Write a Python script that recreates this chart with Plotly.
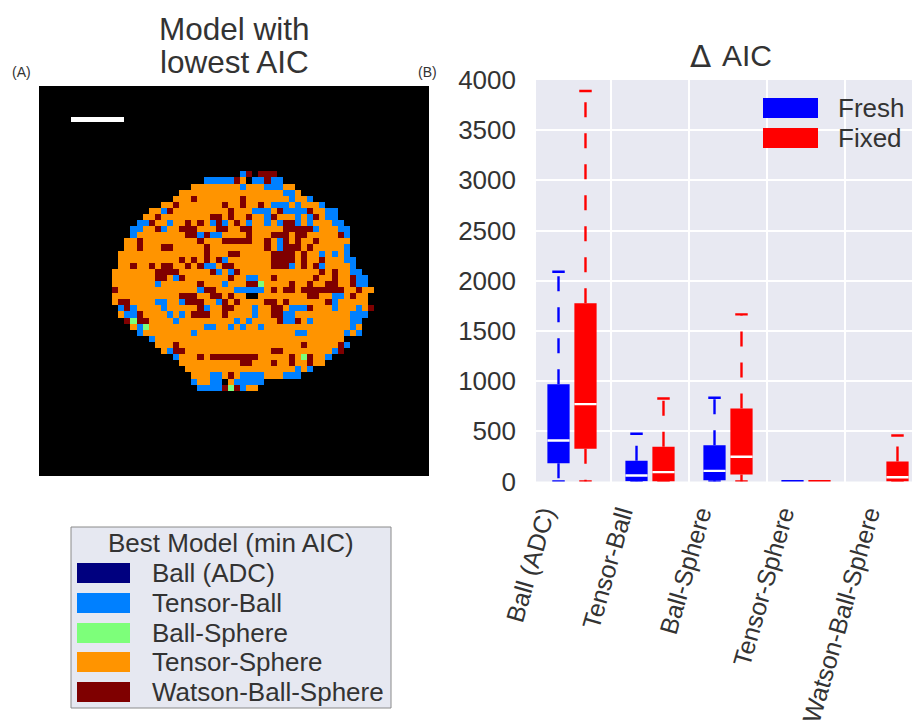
import numpy as np
import plotly.graph_objects as go

W, H = 912, 725
FONT = "Liberation Sans"
TXT = "#333333"
BG = "#e8e9f2"

# ---------- box plot data ----------
models = ["Ball (ADC)", "Tensor-Ball", "Ball-Sphere", "Tensor-Sphere", "Watson-Ball-Sphere"]
label_positions = [-0.37, 0.63, 1.64, 2.70, 3.80]
fresh_low = [0, 0, 0, 0, None]
fresh_q1 = [183, 3, 13, 0, None]
fresh_med = [409, 60, 106, 1, None]
fresh_q3 = [970, 206, 362, 9, None]
fresh_high = [2090, 475, 834, 11, None]
fixed_low = [0, 0, 0, 0, 0]
fixed_q1 = [326, 0, 70, 0, 0]
fixed_med = [771, 93, 246, 1, 43]
fixed_q3 = [1777, 345, 728, 12, 200]
fixed_high = [3890, 827, 1665, 15, 458]
y_ticks = [0, 500, 1000, 1500, 2000, 2500, 3000, 3500, 4000]

# ---------- map data: 64x64 label image ----------
label_names = ["Ball (ADC)", "Tensor-Ball", "Ball-Sphere", "Tensor-Sphere", "Watson-Ball-Sphere"]
label_colors = ["#00007f", "#0080ff", "#7dff7a", "#ff9400", "#7f0000"]
first_row = 15
tissue_first = [27,25,23,22,20,18,17,16,15,15,14,14,13,13,13,12,12,12,12,12,12,13,13,14,15,16,18,19,20,22,23,24,25,25,26]
tissue_last = [39,41,42,44,46,48,48,49,50,50,50,50,50,51,51,52,53,53,54,53,53,54,53,52,52,52,49,50,49,47,46,44,42,36,35]
blue_cells = {
 14:[33],
 15:[27,28,29,30,31,35,36,38,39],16:[33,37,38,39],17:[40,41],18:[41,44],19:[38,39,40,42,46],
 20:[20,35,36,37,40,41,42,43,47,48],21:[37,42,44,47,48],22:[16,17,21,28,30,34,37,39,42,44,48,49],
 23:[15,16,20,45,49,50],24:[15,26,28,29,50],25:[39],26:[39,50],27:[46,48,50],28:[30,50,51],
 29:[27,28,41,46,51],30:[29,31,51,52],31:[22,34,35,52,53],32:[19,30,52,53],33:[26,32,33,34,35,36],
 34:[48,49],35:[19,20,23,29,48],36:[13,15,20,27,35,41,42,43,48,52],37:[14,15,21,23,35,40,41,51,52,53],
 38:[22,32,34,40,41,44,51,52],39:[16,27,28,31,33,36,51],40:[16,25,42,43,50,52],41:[18],42:[50],
 43:[21,48],44:[22,47],46:[42,44],47:[28,29,33,34,35,36,40,41,42],48:[25,28,29,32,33,34,35,36],
 49:[26,27,28,29,33],
}
maroon_cells = {
 14:[34,36,37,38],15:[32,37],18:[25,33],19:[22,30,33,36],20:[21,31,39,44],
 21:[19,28,29,31,34,38,45],22:[18,24,26,29,32,40,41],23:[19,23,24,25,29,30,33,34,40,41,42,43,44],
 24:[24,25,27,34,38,39,40,42,43,49],25:[16,26,30,31,32,33,34,37,40,42,45],
 26:[16,20,21,27,37,40,41,42,44],27:[27,31,32,38,39,40,41,43],28:[23,25,27,29,38,39,40,41,43,46],
 29:[15,18,20,21,24,26,30,31,38,39,40,43,45],30:[19,20,21,22,28,32,46,48],
 31:[19,20,23,31,38,45,48,51],32:[26,34,35,41,44,47,48,51],33:[12,27,28,38,40,41,43,44,45,46,47,48,49,52],
 34:[23,24,25,28,29,31,44,45,51],35:[13,14,24,25,26,30,32,37,38,40,47],
 36:[14,26,30,31,38,39,44,54],37:[16,25,26,27,30,38,39],38:[14,16,17,39,42],
 42:[22,43,49],43:[22,23,38,39,49],44:[26,28,29,30,31,32,33,34,35,41,44],45:[33,34,38,41,44],
 47:[31],49:[30,32],
}
green_cells = {32:[36],38:[15],39:[17],44:[43],49:[31]}
black_cells = {15:[34],34:[34,35],48:[30]}

grid = np.zeros((64, 64), dtype=int)
for i, (a, b) in enumerate(zip(tissue_first, tissue_last)):
    grid[first_row + i, a:b + 1] = 4
for cells, v in [(blue_cells, 2), (green_cells, 3), (maroon_cells, 5), (black_cells, 0)]:
    for r, cols in cells.items():
        grid[r, cols] = v


def px(x):
    return x / W


def py(y):
    return 1 - y / H


fig = go.Figure()

# ---------- map ----------
scale = [[0, "#000000"], [1/6, "#000000"], [1/6, label_colors[0]], [2/6, label_colors[0]],
         [2/6, label_colors[1]], [3/6, label_colors[1]], [3/6, label_colors[2]], [4/6, label_colors[2]],
         [4/6, label_colors[3]], [5/6, label_colors[3]], [5/6, label_colors[4]], [1, label_colors[4]]]
fig.add_trace(go.Heatmap(z=grid.tolist(), colorscale=scale, zmin=-0.5, zmax=5.5, showscale=False,
                         xaxis="x2", yaxis="y2", hoverinfo="skip"))

# ---------- boxes ----------
centers = np.arange(len(models))
OFF = 0.173
BW = 0.285
CAP = 0.08
LW = 2.4
for name, col, sign, lo, q1, med, q3, hi in [
    ("Fresh", "#0000ff", -1, fresh_low, fresh_q1, fresh_med, fresh_q3, fresh_high),
    ("Fixed", "#ff0000", 1, fixed_low, fixed_q1, fixed_med, fixed_q3, fixed_high),
]:
    keep = [i for i in range(len(models)) if q1[i] is not None]
    xs = [centers[i] + sign * OFF for i in keep]
    # whiskers: dashed, each starting from the box edge
    wx, wy, cx, cy, mx, my = [], [], [], [], [], []
    for i, x in zip(keep, xs):
        wx += [x, x, None, x, x, None]
        wy += [q3[i], hi[i], None, q1[i], lo[i], None]
        if hi[i] > 100:
            cx += [x - CAP, x + CAP, None, x - CAP, x + CAP, None]
            cy += [hi[i], hi[i], None, lo[i], lo[i], None]
            mx += [x - BW / 2, x + BW / 2, None]
            my += [med[i], med[i], None]
    fig.add_trace(go.Scatter(x=wx, y=wy, mode="lines", line=dict(color=col, width=LW, dash="15px,16px"),
                             showlegend=False, hoverinfo="skip", xaxis="x", yaxis="y"))
    fig.add_trace(go.Scatter(x=cx, y=cy, mode="lines", line=dict(color=col, width=LW),
                             showlegend=False, hoverinfo="skip", xaxis="x", yaxis="y"))
    fig.add_trace(go.Bar(x=xs, y=[q3[i] - q1[i] for i in keep], base=[q1[i] for i in keep], width=BW,
                         marker=dict(color=col, line=dict(width=0)), name=name, showlegend=False,
                         xaxis="x", yaxis="y"))
    fig.add_trace(go.Scatter(x=mx, y=my, mode="lines", line=dict(color="#ffffff", width=LW),
                             showlegend=False, hoverinfo="skip", xaxis="x", yaxis="y"))

shapes, ann = [], []


def text(x, y, s, size, anchor="left", color=TXT, family=FONT):
    ann.append(dict(x=px(x), y=py(y), xref="paper", yref="paper", text=s, showarrow=False, xanchor=anchor,
                    yanchor="middle", font=dict(family=family, size=size, color=color)))


def rect(x0, y0, x1, y1, fill, line=None):
    shapes.append(dict(type="rect", xref="paper", yref="paper", x0=px(x0), x1=px(x1), y0=py(y0), y1=py(y1),
                       fillcolor=fill, line=dict(color=line or fill, width=1 if line else 0), layer="above"))


# scale bar
rect(71, 117, 124, 122, "#ffffff")

# map legend
rect(71, 527, 391, 708, "#e6e8f1", "#8a8a8a")
text(231, 543, "Best Model (min AIC)", 26, "center")
for name, col, yc in zip(label_names, label_colors, [573, 603, 633, 662, 692]):
    rect(77, yc - 10, 130, yc + 10, col)
    text(150, yc, name, 26)

# box legend
for name, col, yc in [("Fresh", "#0000ff", 108), ("Fixed", "#ff0000", 138)]:
    rect(763, yc - 10, 818, yc + 10, col)
    text(836, yc, name, 26)

# titles and panel letters
text(234, 29, "Model with", 31.5, "center")
text(234, 62, "lowest AIC", 31.5, "center")
text(700, 56, "\u0394", 31, "center", family="DejaVu Sans")
text(747, 56, "AIC", 30, "center")
text(21, 72, "(A)", 14, "center")
text(427, 72, "(B)", 14, "center")

PX_PER_UNIT = 78.0
x_lo = -36 / PX_PER_UNIT
x_hi = (912 - 572) / PX_PER_UNIT

fig.update_layout(
    template="none",
    width=W, height=H, margin=dict(l=0, r=0, t=0, b=0, pad=0), paper_bgcolor="#ffffff", plot_bgcolor=BG,
    barmode="overlay", showlegend=False, shapes=shapes, annotations=ann,
    font=dict(family=FONT, color=TXT),
    xaxis=dict(domain=[px(536), 1], range=[x_lo, x_hi], tickmode="array", tickvals=label_positions,
               ticktext=models, tickangle=-74, showgrid=False, zeroline=False, ticks="", showline=False,
               automargin=False, ticklabelstandoff=12,
               tickfont=dict(family=FONT, size=25, color=TXT), anchor="y",
               minor=dict(tickmode="array", tickvals=[0.5, 1.5, 2.5, 3.5], showgrid=True,
                          gridcolor="#ffffff", gridwidth=LW, ticks="")),
    yaxis=dict(domain=[py(481.5), py(80)], range=[0, 4000], tickmode="array", tickvals=y_ticks,
               showgrid=True, gridcolor="#ffffff", gridwidth=LW, zeroline=False, ticks="", showline=False,
               automargin=False, ticklabelstandoff=19,
               tickfont=dict(family=FONT, size=26, color=TXT), anchor="x"),
    xaxis2=dict(domain=[px(39), px(429)], range=[-0.5, 63.5], visible=False, anchor="y2", automargin=False),
    yaxis2=dict(domain=[py(476), py(86)], range=[63.5, -0.5], visible=False, anchor="x2", automargin=False),
)

fig.write_html("out.html", config=dict(displayModeBar=False),
               post_script="document.body.style.margin='0';document.body.style.overflow='hidden';")
